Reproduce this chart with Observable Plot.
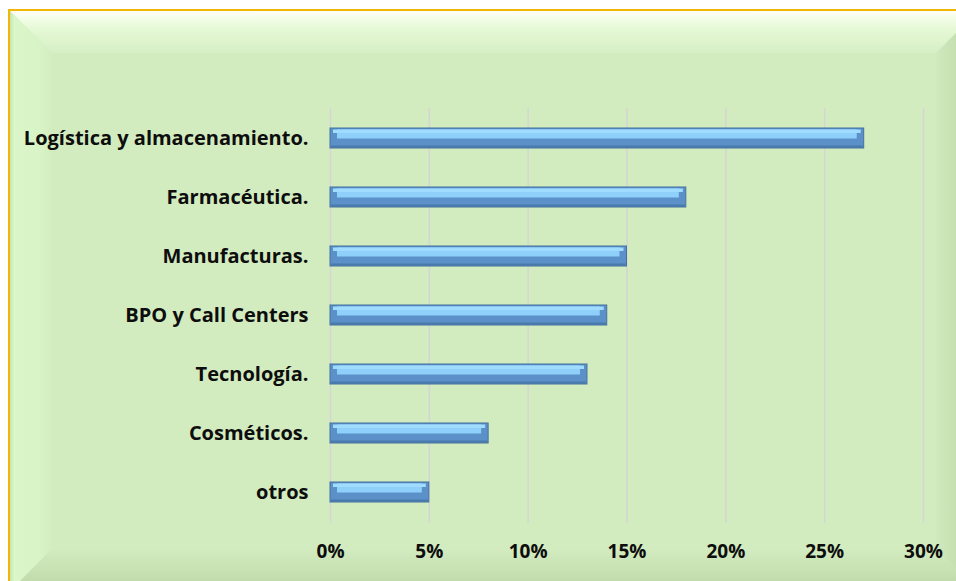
<!DOCTYPE html>
<html>
<head>
<meta charset="utf-8">
<script src="https://cdn.jsdelivr.net/npm/d3@7"></script>
<script src="https://cdn.jsdelivr.net/npm/@observablehq/plot@0.6"></script>
<style>
  html, body { margin: 0; padding: 0; background: #ffffff; }
  #wrap { position: relative; width: 956px; height: 581px; overflow: hidden; }
  #frame { position: absolute; left: 8px; top: 9px; width: 968px; height: 580px;
           background: #d2ebbf; border-top: 2px solid #f2b705; border-left: 2px solid #f2b705; }
  .bev { position: absolute; }
  #bt { left: 0; top: 0; width: 968px; height: 42px;
        background: linear-gradient(to bottom, #fffff6 0px, #f2fde6 8px, #e3f8d3 20px, #d6efc4 42px);
        clip-path: polygon(0 0, 100% 0, calc(100% - 42px) 100%, 42px 100%); }
  #bl { left: 0; top: 0; width: 42px; height: 580px;
        background: linear-gradient(to right, #c7e2b4 0px, #dbf6c9 4px, #d8f3c6 30px, #d3edc0 42px);
        clip-path: polygon(0 0, 100% 42px, 100% calc(100% - 42px), 0 100%); }
  #br { left: 926px; top: 0; width: 42px; height: 580px;
        background: linear-gradient(to right, #d0e9bd 0px, #c6e0b2 20px, #bcd6a8 42px);
        clip-path: polygon(100% 0, 100% 100%, 0 calc(100% - 42px), 0 42px); }
  #bb { left: 0; top: 538px; width: 968px; height: 42px;
        background: linear-gradient(to bottom, #d2ebbf 0px, #c8e2b4 20px, #bcd6a8 42px);
        clip-path: polygon(42px 0, calc(100% - 42px) 0, 100% 100%, 0 100%); }
  #chart { position: absolute; left: 0; top: 0; }
</style>
</head>
<body>
<div id="wrap">
  <div id="frame">
    <div class="bev" id="bt"></div>
    <div class="bev" id="bl"></div>
    <div class="bev" id="br"></div>
    <div class="bev" id="bb"></div>
  </div>
  <div id="chart"></div>
</div>
<script>
const categories = ["Logística y almacenamiento.", "Farmacéutica.", "Manufacturas.", "BPO y Call Centers", "Tecnología.", "Cosméticos.", "otros"];
const values = [0.27, 0.18, 0.15, 0.14, 0.13, 0.08, 0.05];
const xTicks = [0, 0.05, 0.10, 0.15, 0.20, 0.25, 0.30];

const data = categories.map((c, i) => ({category: c, value: values[i]}));

const chart = Plot.plot({
  width: 956,
  height: 581,
  marginLeft: 330,
  marginRight: 33,
  marginTop: 108,
  marginBottom: 58,
  style: {background: "transparent", fontFamily: "'Open Sans', 'DejaVu Sans', sans-serif", fontSize: "18px", fontWeight: "bold", color: "#0d0d0d"},
  x: {domain: [0, 0.30], ticks: xTicks, tickFormat: d3.format(".0%")},
  y: {domain: categories, paddingInner: 0.66, paddingOuter: 0.33},
  marks: [
    Plot.gridX(xTicks, {stroke: "#d5d5d5", strokeOpacity: 1, strokeWidth: 1.5}),
    Plot.barX(data, {x: "value", y: "category", fill: "#5b91c8", stroke: "#44729f", strokeWidth: 1}),
    Plot.barX(data, {x: "value", y: "category", fill: "#4a7aab", insetTop: 17.5, insetLeft: 1, insetRight: 1}),
    Plot.barX(data, {x: "value", y: "category", fill: "#8fd0fb", insetTop: 1.5, insetBottom: 9.5, insetLeft: 7, insetRight: 7}),
    Plot.barX(data, {x: "value", y: "category", fill: "#9fdcff", insetTop: 1.5, insetBottom: 15, insetLeft: 3, insetRight: 3}),
    Plot.axisX({ticks: xTicks, tickFormat: d3.format(".0%"), tickSize: 0, tickPadding: 21, label: null, fontSize: 19}),
    Plot.axisY({tickSize: 0, tickPadding: 22, label: null, fontSize: 20})
  ]
});
document.getElementById("chart").appendChild(chart);
</script>
</body>
</html>
